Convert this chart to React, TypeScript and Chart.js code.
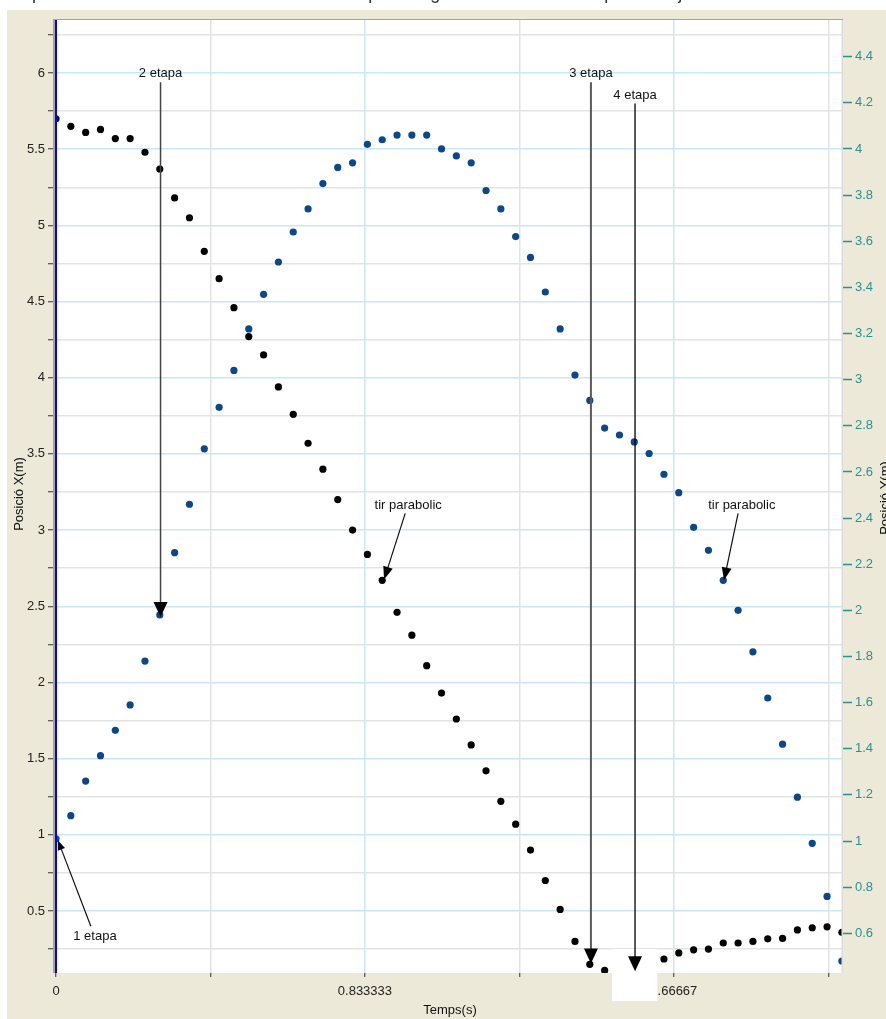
import React, { useEffect, useRef } from "react";
import { Chart, registerables } from "chart.js";

Chart.register(...registerables);

const W = 886;
const H = 1019;

// Time (s) of each video frame
const TIMES = [
  0, 0.04, 0.08, 0.12, 0.16, 0.2, 0.24, 0.28, 0.32, 0.36,
  0.4, 0.44, 0.48, 0.52, 0.56, 0.6, 0.64, 0.68, 0.72, 0.76,
  0.8, 0.84, 0.88, 0.92, 0.96, 1.0, 1.04, 1.08, 1.12, 1.16,
  1.2, 1.24, 1.28, 1.32, 1.36, 1.4, 1.44, 1.48, 1.52, 1.56,
  1.6, 1.64, 1.68, 1.72, 1.76, 1.8, 1.84, 1.88, 1.92, 1.96,
  2.0, 2.04, 2.08, 2.12,
];

// Posició X(m) — left axis (black); null = hidden under the white patch
const POS_X: (number | null)[] = [
  5.7, 5.65, 5.61, 5.63, 5.57, 5.57, 5.48, 5.37, 5.18, 5.05,
  4.83, 4.65, 4.46, 4.27, 4.15, 3.94, 3.76, 3.57, 3.4, 3.2,
  3.0, 2.84, 2.67, 2.46, 2.31, 2.11, 1.93, 1.76, 1.59, 1.42,
  1.22, 1.07, 0.9, 0.7, 0.51, 0.3, 0.15, 0.11, null, null,
  null, 0.185, 0.225, 0.245, 0.25, 0.29, 0.29, 0.3, 0.317, 0.32,
  0.376, 0.39, 0.396, 0.36,
];

// Posició Y(m) — right axis (blue)
const POS_Y = [
  1.01, 1.11, 1.26, 1.37, 1.48, 1.59, 1.78, 1.98, 2.25, 2.46,
  2.7, 2.88, 3.04, 3.22, 3.37, 3.51, 3.64, 3.74, 3.85, 3.92,
  3.94, 4.02, 4.04, 4.06, 4.06, 4.06, 4.0, 3.97, 3.94, 3.82,
  3.74, 3.62, 3.53, 3.38, 3.22, 3.02, 2.91, 2.79, 2.76, 2.73,
  2.68, 2.59, 2.51, 2.36, 2.26, 2.13, 2.0, 1.82, 1.62, 1.42,
  1.19, 0.99, 0.76, 0.48,
];

const X_MIN = 0;
const X_MAX = 2.123;
const X_TICKS = [0, 0.4166667, 0.8333333, 1.25, 1.6666667, 2.0833333];
const X_TICK_LABELS = ["0", "", "0.833333", "", "1.66667", ""];

const YL_MIN = 0.093;
const YL_MAX = 6.348;
const YL_TICKS = [
  0.25, 0.5, 0.75, 1, 1.25, 1.5, 1.75, 2, 2.25, 2.5, 2.75, 3, 3.25,
  3.5, 3.75, 4, 4.25, 4.5, 4.75, 5, 5.25, 5.5, 5.75, 6, 6.25,
];
const YL_TICK_LABELS = [
  "", "0.5", "", "1", "", "1.5", "", "2", "", "2.5", "", "3", "",
  "3.5", "", "4", "", "4.5", "", "5", "", "5.5", "", "6", "",
];

const YR_MIN = 0.428;
const YR_MAX = 4.559;
const YR_TICKS = [0.6, 0.8, 1, 1.2, 1.4, 1.6, 1.8, 2, 2.2, 2.4, 2.6, 2.8, 3, 3.2, 3.4, 3.6, 3.8, 4, 4.2, 4.4];
const YR_TICK_LABELS = ["0.6", "0.8", "1", "1.2", "1.4", "1.6", "1.8", "2", "2.2", "2.4", "2.6", "2.8", "3", "3.2", "3.4", "3.6", "3.8", "4", "4.2", "4.4"];

const X_TITLE = "Temps(s)";
const YL_TITLE = "Posició X(m)";
const YR_TITLE = "Posició Y(m)";
const TOP_TEXT = "comportament del saltador en les diferents etapes i el gràfic on es mostra aquesta trajectòria";

// Annotations in data units (t, left-axis value)
const VERTICAL_ARROWS = [
  { label: "2 etapa", t: 0.282, labelY: 6.0, top: 5.94, tip: 2.43, color: "#444", width: 1.5 },
  { label: "3 etapa", t: 1.443, labelY: 6.0, top: 5.94, tip: 0.155, color: "#5a5a5a", width: 2 },
  { label: "4 etapa", t: 1.562, labelY: 5.85, top: 5.8, tip: 0.105, color: "#000", width: 1.3 },
];
const SLANT_ARROWS = [
  { label: "1 etapa", lt: 0.105, lv: 0.336, st: 0.094, sv: 0.4, et: 0.005, ev: 0.965, head: 10 },
  { label: "tir parabolic", lt: 0.95, lv: 3.16, st: 0.942, sv: 3.11, et: 0.885, ev: 2.675, head: 13 },
  { label: "tir parabolic", lt: 1.85, lv: 3.16, st: 1.84, sv: 3.11, et: 1.802, ev: 2.67, head: 13 },
];
const PATCH = { t0: 1.5, t1: 1.622, v: 0.25 };

const FONT = 'Arial, "Liberation Sans", sans-serif';
const BLUE_GRID = "#c9e7f8";
const GRAY_GRID = "#e3e3e3";
const TEAL = "#2a9191";
const BEIGE = "#ECE9D8";

function drawArrow(ctx: CanvasRenderingContext2D, x1: number, y1: number, x2: number, y2: number, headLen: number, headHalf: number, color: string, width: number) {
  const dx = x2 - x1;
  const dy = y2 - y1;
  const len = Math.hypot(dx, dy);
  const ux = dx / len;
  const uy = dy / len;
  const bx = x2 - ux * headLen;
  const by = y2 - uy * headLen;
  ctx.strokeStyle = color;
  ctx.lineWidth = width;
  ctx.beginPath();
  ctx.moveTo(x1, y1);
  ctx.lineTo(bx + ux * 2, by + uy * 2);
  ctx.stroke();
  ctx.fillStyle = "#000";
  ctx.beginPath();
  ctx.moveTo(x2, y2);
  ctx.lineTo(bx - uy * headHalf, by + ux * headHalf);
  ctx.lineTo(bx + uy * headHalf, by - ux * headHalf);
  ctx.closePath();
  ctx.fill();
}

const decorPlugin = {
  id: "decor",
  beforeDraw(chart: any) {
    const { ctx, chartArea: a } = chart;
    ctx.save();
    ctx.fillStyle = "#fff";
    ctx.fillRect(0, 0, W, H);
    ctx.fillStyle = "#333";
    ctx.font = `18px ${FONT}`;
    ctx.textBaseline = "alphabetic";
    ctx.textAlign = "left";
    ctx.fillText(TOP_TEXT, -2, -1);
    ctx.fillStyle = BEIGE;
    ctx.fillRect(7, 10, W - 7, H - 10);
    ctx.fillStyle = "#fff";
    ctx.fillRect(a.left, a.top, a.right - a.left, a.bottom - a.top);
    ctx.restore();
  },
  afterDatasetsDraw(chart: any) {
    const { ctx, chartArea: a, scales } = chart;
    const xs = scales.x;
    const ys = scales.y;
    ctx.save();
    // borders
    ctx.fillStyle = "#a7a396";
    ctx.fillRect(a.left - 3, a.top - 1, 2, a.bottom - a.top + 1);
    ctx.fillRect(a.left - 3, a.top - 1, a.right - a.left + 3, 1);
    ctx.fillStyle = "#dcdcdc";
    ctx.fillRect(a.right - 1.5, a.top, 1.5, a.bottom - a.top);
    ctx.fillStyle = "#0000ff";
    ctx.fillRect(a.left - 1, a.top, 2, a.bottom - a.top);

    // white patch
    const px0 = xs.getPixelForValue(PATCH.t0);
    const px1 = xs.getPixelForValue(PATCH.t1);
    const py0 = ys.getPixelForValue(PATCH.v);
    ctx.fillStyle = "#fff";
    ctx.fillRect(px0, py0, px1 - px0, a.bottom + 28 - py0);

    ctx.font = `13px ${FONT}`;
    ctx.textAlign = "center";
    ctx.textBaseline = "middle";
    for (const v of VERTICAL_ARROWS) {
      const x = xs.getPixelForValue(v.t);
      ctx.fillStyle = "#111";
      ctx.fillText(v.label, x, ys.getPixelForValue(v.labelY));
      drawArrow(ctx, x, ys.getPixelForValue(v.top), x, ys.getPixelForValue(v.tip), 15, 7, v.color, v.width);
    }
    for (const s of SLANT_ARROWS) {
      ctx.fillStyle = "#111";
      ctx.fillText(s.label, xs.getPixelForValue(s.lt), ys.getPixelForValue(s.lv));
      drawArrow(
        ctx,
        xs.getPixelForValue(s.st), ys.getPixelForValue(s.sv),
        xs.getPixelForValue(s.et), ys.getPixelForValue(s.ev),
        s.head, s.head * 0.38, "#111", 1.2
      );
    }
    ctx.restore();
  },
  afterDraw(chart: any) {
    const { ctx } = chart;
    ctx.save();
    ctx.fillStyle = "#111";
    ctx.font = `13px ${FONT}`;
    ctx.textAlign = "center";
    ctx.textBaseline = "middle";
    ctx.fillText(X_TITLE, 450, 1010);
    ctx.translate(19, 494);
    ctx.rotate(-Math.PI / 2);
    ctx.fillText(YL_TITLE, 0, 0);
    ctx.restore();
    ctx.save();
    ctx.fillStyle = "#111";
    ctx.font = `13px ${FONT}`;
    ctx.textAlign = "center";
    ctx.textBaseline = "middle";
    ctx.translate(885, 498);
    ctx.rotate(-Math.PI / 2);
    ctx.fillText(YR_TITLE, 0, 0);
    ctx.restore();
  },
};

export default function App() {
  const ref = useRef<HTMLCanvasElement>(null);
  useEffect(() => {
    const blackData = TIMES.map((t, i) => ({ x: t, y: POS_X[i] })).filter((p) => p.y !== null);
    const blueData = TIMES.map((t, i) => ({ x: t, y: POS_Y[i] }));
    const chart = new Chart(ref.current!, {
      type: "scatter",
      data: {
        datasets: [
          {
            label: "Posició X",
            data: blackData as any,
            yAxisID: "y",
            backgroundColor: "#000",
            borderColor: "#000",
            borderWidth: 0,
            pointRadius: 3.6,
          },
          {
            label: "Posició Y",
            data: blueData,
            yAxisID: "y1",
            backgroundColor: "#0a4889",
            borderColor: "#0a4889",
            borderWidth: 0,
            pointRadius: 3.6,
          },
        ],
      },
      options: {
        responsive: false,
        animation: false,
        devicePixelRatio: 1,
        layout: { padding: { top: 20, left: 0, right: 0, bottom: 0 } },
        plugins: { legend: { display: false }, tooltip: { enabled: false } },
        scales: {
          x: {
            type: "linear",
            min: X_MIN,
            max: X_MAX,
            afterBuildTicks: (s: any) => {
              s.ticks = X_TICKS.map((v) => ({ value: v }));
            },
            afterFit: (s: any) => {
              s.height = 46;
            },
            ticks: {
              autoSkip: false,
              maxRotation: 0,
              color: "#222",
              font: { family: FONT, size: 13 },
              padding: 7,
              callback: (_v: any, i: number) => X_TICK_LABELS[i],
            },
            grid: {
              color: (c: any) => (c.index === 0 ? "rgba(0,0,0,0)" : X_TICK_LABELS[c.index] ? BLUE_GRID : GRAY_GRID),
              lineWidth: 1.5,
              drawTicks: true,
              tickLength: 4,
              tickColor: "#333",
              tickWidth: 1,
            },
            border: { display: false },
          },
          y: {
            type: "linear",
            position: "left",
            min: YL_MIN,
            max: YL_MAX,
            afterBuildTicks: (s: any) => {
              s.ticks = YL_TICKS.map((v) => ({ value: v }));
            },
            afterFit: (s: any) => {
              s.width = 56;
            },
            ticks: {
              autoSkip: false,
              color: "#222",
              font: { family: FONT, size: 13 },
              padding: 3,
              callback: (_v: any, i: number) => YL_TICK_LABELS[i],
            },
            grid: {
              color: (c: any) => (YL_TICK_LABELS[c.index] ? BLUE_GRID : GRAY_GRID),
              lineWidth: 1.5,
              drawTicks: true,
              tickLength: 8,
              tickColor: "#333",
              tickWidth: 1,
            },
            border: { display: false },
          },
          y1: {
            type: "linear",
            position: "right",
            min: YR_MIN,
            max: YR_MAX,
            afterBuildTicks: (s: any) => {
              s.ticks = YR_TICKS.map((v) => ({ value: v }));
            },
            afterFit: (s: any) => {
              s.width = 43;
            },
            ticks: {
              autoSkip: false,
              color: TEAL,
              font: { family: FONT, size: 13 },
              padding: 3,
              callback: (_v: any, i: number) => YR_TICK_LABELS[i],
            },
            grid: {
              drawOnChartArea: false,
              drawTicks: true,
              tickLength: 9,
              tickColor: TEAL,
              tickWidth: 1.5,
              color: TEAL,
            },
            border: { display: false },
          },
        },
      } as any,
      plugins: [decorPlugin],
    });
    return () => chart.destroy();
  }, []);
  return (
    <div style={{ position: "absolute", left: 0, top: 0, width: W, height: H, overflow: "hidden" }}>
      <canvas ref={ref} width={W} height={H} style={{ display: "block", width: W, height: H }} />
    </div>
  );
}
